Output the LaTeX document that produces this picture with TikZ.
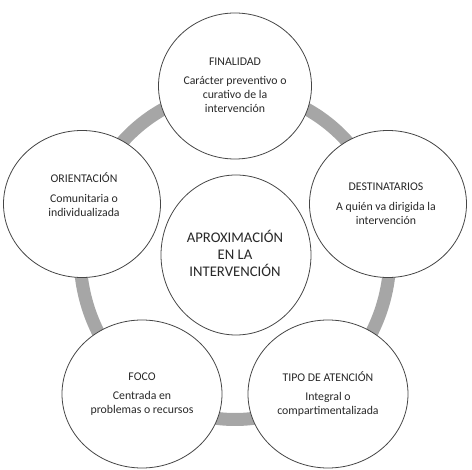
\documentclass[tikz,border=0pt]{standalone}
\usepackage{fontspec}
\setmainfont{Carlito}
\usetikzlibrary{shapes.geometric}
\definecolor{ringgray}{RGB}{166,166,166}
\definecolor{edgegray}{RGB}{70,70,70}
\definecolor{txtcol}{RGB}{40,40,40}
\begin{document}
\begin{tikzpicture}[x=1pt,y=-1pt,
  bubble/.style={ellipse, draw=edgegray, line width=0.8pt, fill=white, inner sep=0pt},
  outer/.style={bubble, minimum width=157pt, minimum height=147pt},
  txt/.style={align=center, font=\fontsize{11.8}{13.8}\selectfont, text=txtcol, inner sep=0pt},
  ctxt/.style={align=center, font=\fontsize{14.7}{17}\selectfont, text=txtcol, inner sep=0pt},
]
\useasboundingbox (0,0) rectangle (472,470);
\draw[line width=13pt, draw=ringgray] (235,255) ellipse [x radius=155, y radius=164.5];

\node[outer, minimum width=153pt, minimum height=146pt] (top) at (235,86) {};
\node[outer] (left) at (82,204) {};
\node[outer] (right) at (388,204) {};
\node[outer, minimum width=160pt, minimum height=148pt] (bl) at (142,394) {};
\node[outer, minimum width=160pt, minimum height=148pt] (br) at (328,394) {};
\node[bubble, minimum width=150pt, minimum height=160pt] (mid) at (236,255) {};

\node[txt] (ttop) at ([yshift=1pt]top.center) {FINALIDAD\\[6pt]Carácter preventivo o\\curativo de la\\intervención};
\node[txt] (tleft) at ([xshift=2pt,yshift=9.5pt]left.center) {ORIENTACIÓN\\[6pt]Comunitaria o\\individualizada};
\node[txt] (tright) at ([xshift=-2pt]right.center) {DESTINATARIOS\\[6pt]A quién va dirigida la\\intervención};
\node[txt] (tbl) at (bl.center) {FOCO\\[6pt]Centrada en\\problemas o recursos};
\node[txt] (tbr) at (br.center) {TIPO DE ATENCIÓN\\[6pt]Integral o\\compartimentalizada};
\node[ctxt] (tmid) at ([xshift=-1pt,yshift=2pt]mid.center) {APROXIMACIÓN\\EN LA\\INTERVENCIÓN};
\end{tikzpicture}
\end{document}
